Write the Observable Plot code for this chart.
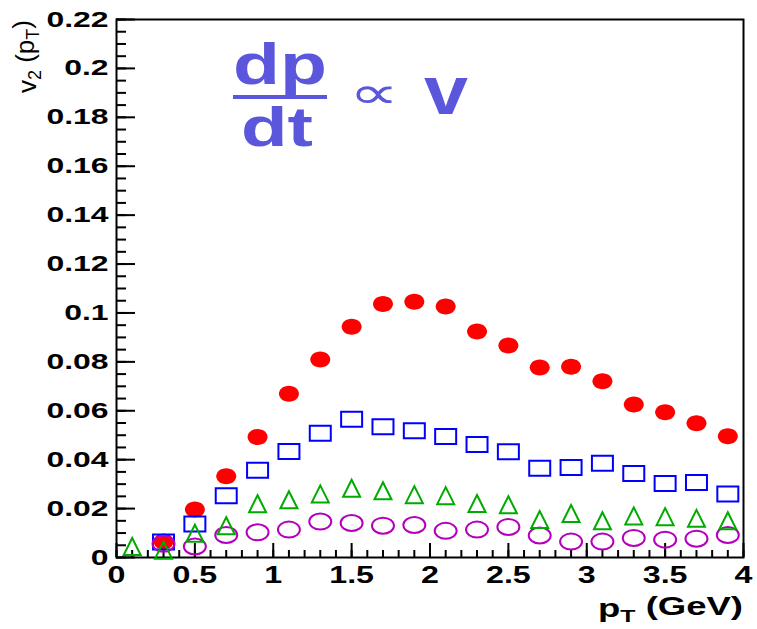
<!DOCTYPE html>
<html><head><meta charset="utf-8">
<script src="https://cdn.jsdelivr.net/npm/d3@7"></script>
<script src="https://cdn.jsdelivr.net/npm/@observablehq/plot@0.6"></script>
<style>
html,body{margin:0;padding:0;background:#fff;}
#chart{width:757px;height:629px;position:relative;}
</style></head><body><div id="chart"></div>
<script>
// ---- data ----
const pT = [0.1,0.3,0.5,0.7,0.9,1.1,1.3,1.5,1.7,1.9,2.1,2.3,2.5,2.7,2.9,3.1,3.3,3.5,3.7,3.9];
const v2Red     = [null,0.0065,0.0196,0.0332,0.0493,0.0670,0.0810,0.0944,0.1037,0.1046,0.1026,0.0924,0.0867,0.0777,0.0780,0.0721,0.0626,0.0594,0.0549,0.0496];
const v2Blue    = [null,0.0063,0.0137,0.0253,0.0357,0.0433,0.0508,0.0565,0.0535,0.0518,0.0495,0.0462,0.0432,0.0365,0.0368,0.0385,0.0344,0.0303,0.0307,0.0260];
const v2Green   = [0.0045,0.0030,0.0099,0.0130,0.0220,0.0236,0.0260,0.0283,0.0273,0.0257,0.0253,0.0221,0.0216,0.0155,0.0180,0.0150,0.0170,0.0167,0.0160,0.0150];
const v2Magenta = [null,0.0056,0.0045,0.0092,0.0103,0.0114,0.0147,0.0141,0.0130,0.0133,0.0109,0.0114,0.0125,0.0090,0.0065,0.0065,0.0080,0.0073,0.0077,0.0092];

const xTicks = [0,0.5,1,1.5,2,2.5,3,3.5,4];
const xTickLabels = ["0","0.5","1","1.5","2","2.5","3","3.5","4"];
const yTicks = [0,0.02,0.04,0.06,0.08,0.1,0.12,0.14,0.16,0.18,0.2,0.22];
const yTickLabels = ["0","0.02","0.04","0.06","0.08","0.1","0.12","0.14","0.16","0.18","0.2","0.22"];
const xMinor = d3.range(0, 4.0001, 0.1);
const yMinor = d3.range(0, 0.2201, 0.005);

// ---- layout ----
const W = 757, H = 629, mL = 116, mR = 14, mT = 19, mB = 72;
const fw = W - mL - mR, fh = H - mT - mB;

// custom marker shapes (pixel sizes)
const ellipse = (rx, ry) => ({draw(c){const k=0.5523;
  c.moveTo(rx,0); c.bezierCurveTo(rx,k*ry,k*rx,ry,0,ry); c.bezierCurveTo(-k*rx,ry,-rx,k*ry,-rx,0);
  c.bezierCurveTo(-rx,-k*ry,-k*rx,-ry,0,-ry); c.bezierCurveTo(k*rx,-ry,rx,-k*ry,rx,0); c.closePath();}});
const rect = (hw, hh) => ({draw(c){c.moveTo(-hw,-hh);c.lineTo(hw,-hh);c.lineTo(hw,hh);c.lineTo(-hw,hh);c.closePath();}});
const tri = (hw, hh) => ({draw(c){c.moveTo(0,-hh);c.lineTo(hw,hh);c.lineTo(-hw,hh);c.closePath();}});

const series = ys => pT.map((x,i) => ({x, y: ys[i]})).filter(d => d.y != null);

const plot = Plot.plot({
  width: W, height: H,
  marginLeft: mL, marginRight: mR, marginTop: mT, marginBottom: mB,
  style: {fontFamily: "'Liberation Sans', Arial, sans-serif", background: "#fff", color: "#000", overflow: "visible"},
  x: {domain: [0, 4], label: null},
  y: {domain: [0, 0.22], label: null},
  marks: [
    Plot.axisX(xTicks, {tickSize: 0, tickPadding: 9, fontSize: 23, fontWeight: "bold",
      tickFormat: d => xTickLabels[xTicks.indexOf(d)], label: null}),
    Plot.axisY(yTicks, {tickSize: 0, tickPadding: 8, fontSize: 22, fontWeight: "bold",
      tickFormat: d => yTickLabels[yTicks.indexOf(d)], label: null}),
    Plot.tickY(yMinor, {y: d => d, insetRight: fw - 10, stroke: "#000", strokeWidth: 2}),
    Plot.tickY(yTicks, {y: d => d, insetRight: fw - 19, stroke: "#000", strokeWidth: 2}),
    Plot.tickX(xMinor, {x: d => d, insetTop: fh - 7, stroke: "#000", strokeWidth: 2}),
    Plot.tickX(xTicks, {x: d => d, insetTop: fh - 14, stroke: "#000", strokeWidth: 2}),
    Plot.frame({stroke: "#000", strokeWidth: 2}),
    Plot.dot(series(v2Red), {x: "x", y: "y", symbol: ellipse(10, 8), r: 8, fill: "#ff0000", stroke: "none"}),
    Plot.dot(series(v2Blue), {x: "x", y: "y", symbol: rect(10.5, 7.5), r: 8, fill: "none", stroke: "#0000ff", strokeWidth: 2}),
    Plot.dot(series(v2Magenta), {x: "x", y: "y", symbol: ellipse(11, 8), r: 8, fill: "none", stroke: "#b400bc", strokeWidth: 2}),
    Plot.dot(series(v2Green), {x: "x", y: "y", symbol: tri(8.5, 8.5), r: 8, fill: "none", stroke: "#00aa00", strokeWidth: 2})
  ]
});
document.getElementById("chart").appendChild(plot);

const svg = d3.select(plot);
function stretch(sel, s){ sel.each(function(){ const L = this.getComputedTextLength();
  this.setAttribute("textLength", L * s); this.setAttribute("lengthAdjust", "spacingAndGlyphs"); }); }
function fitTo(el, w){ el.setAttribute("textLength", w); el.setAttribute("lengthAdjust", "spacingAndGlyphs"); }

stretch(svg.selectAll('[aria-label="y-axis tick label"] text'), 1.45);
stretch(svg.selectAll('[aria-label="x-axis tick label"] text'), 1.4);

// axis titles
const yt = svg.append("text").attr("transform", "translate(36,20) rotate(-90)")
  .attr("text-anchor", "end").attr("font-family", "'Liberation Sans', Arial, sans-serif")
  .attr("font-size", 26).attr("fill", "#000");
yt.append("tspan").text("v");
yt.append("tspan").attr("font-size", 18).attr("dy", "0.3em").text("2");
yt.append("tspan").attr("dy", "-0.3em").text(" (p");
yt.append("tspan").attr("font-size", 18).attr("dy", "0.3em").text("T");
yt.append("tspan").attr("dy", "-0.3em").text(")");

const xt = svg.append("text").attr("x", 743).attr("y", 617)
  .attr("text-anchor", "end").attr("font-family", "'Liberation Sans', Arial, sans-serif")
  .attr("font-size", 25).attr("font-weight", "bold").attr("fill", "#000");
xt.append("tspan").text("p");
xt.append("tspan").attr("font-size", 17).attr("dy", "0.3em").text("T");
xt.append("tspan").attr("dy", "-0.3em").text(" (GeV)");
fitTo(xt.node(), 145);

// annotation dp/dt ∝ v
const col = "#5b57dc";
const ann = svg.append("g").attr("fill", col).attr("font-family", "'Liberation Sans', Arial, sans-serif").attr("font-weight", "bold");
fitTo(ann.append("text").attr("x", 280).attr("y", 84).attr("text-anchor", "middle").attr("font-size", 58).text("dp").node(), 94);
ann.append("line").attr("x1", 233).attr("x2", 327).attr("y1", 97).attr("y2", 97).attr("stroke", col).attr("stroke-width", 4);
fitTo(ann.append("text").attr("x", 277).attr("y", 146).attr("text-anchor", "middle").attr("font-size", 55).text("dt").node(), 72);
fitTo(ann.append("text").attr("x", 374).attr("y", 108).attr("text-anchor", "middle").attr("font-size", 44)
  .attr("font-weight", "normal").attr("font-family", "'DejaVu Sans', sans-serif").text("\u221D").node(), 50);
fitTo(ann.append("text").attr("x", 446).attr("y", 114).attr("text-anchor", "middle").attr("font-size", 68).text("v").node(), 44);
</script></body></html>
